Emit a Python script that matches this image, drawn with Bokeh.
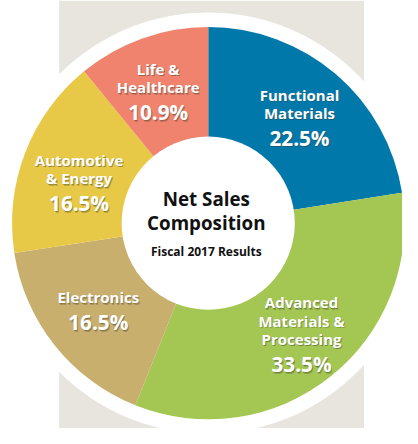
import math
from bokeh.plotting import figure
from bokeh.models import Range1d
from bokeh.core.properties import value
from bokeh.embed import file_html
from bokeh.resources import INLINE

# ---- data ----
segments = ["Functional Materials", "Advanced Materials & Processing", "Electronics",
            "Automotive & Energy", "Life & Healthcare"]
label_lines = [["Functional", "Materials"], ["Advanced", "Materials &", "Processing"],
               ["Electronics"], ["Automotive", "& Energy"], ["Life &", "Healthcare"]]
shares = [22.5, 33.5, 16.5, 16.5, 10.9]
colors = ["#0078AA", "#A4C652", "#C9AF6E", "#E8C947", "#EF836D"]
center_title = ["Net Sales", "Composition"]
center_sub = "Fiscal 2017 Results"

# ---- layout (reference pixel space, y flipped) ----
W, H = 402, 428
W_REF, H_REF = 418, 444
S = W / W_REF
def Y(y_ref):
    return H_REF - y_ref
def px(v):
    return f"{v * S:.1f}px"

cx, cy_ref = 216, 231
cy = Y(cy_ref)
R_OUT, R_RING, R_IN = 204, 219, 90
LABEL_R = 146
nudges = [(0, 0), (6, 0), (0, -1), (2, 9), (-3, 0)]
FONT = "Open Sans"

p = figure(width=W, height=H, output_backend="svg", toolbar_location=None,
           x_range=Range1d(0, W_REF), y_range=Range1d(0, H_REF),
           x_axis_location=None, y_axis_location=None,
           min_border=0, outline_line_color=None, background_fill_color="white",
           border_fill_color="white")
p.grid.visible = False

# beige backdrop
p.quad(left=61, right=378, bottom=Y(444), top=Y(0), fill_color="#E8E5DF", line_color=None)
# white ring
p.circle(x=cx, y=cy, radius=R_RING, fill_color="white", line_color=None)

total = sum(shares)
starts, ends, mids = [], [], []
cum = 0.0
for s in shares:
    a0 = math.pi / 2 - 2 * math.pi * cum / total
    cum += s
    a1 = math.pi / 2 - 2 * math.pi * cum / total
    starts.append(a0)
    ends.append(a1)
    mids.append((a0 + a1) / 2)

p.wedge(x=[cx] * len(shares), y=[cy] * len(shares), radius=R_OUT,
        start_angle=starts, end_angle=ends, direction="clock",
        fill_color=colors, line_color=None)
p.circle(x=cx, y=cy, radius=R_IN, fill_color="white", line_color=None)

def shadow_text(x, y, txt, size):
    for dx, dy, a in [(1.2, -1.5, 0.25), (0.6, -0.8, 0.3)]:
        p.text(x=[x + dx], y=[y + dy], text=[txt], text_font=value(FONT),
               text_font_style="bold", text_font_size=size, text_color="#3a3a2a",
               text_alpha=a, text_align="center", text_baseline="middle")
    p.text(x=[x], y=[y], text=[txt], text_font=value(FONT), text_font_style="bold",
           text_font_size=size, text_color="white", text_align="center",
           text_baseline="middle")

LINE = 19
PCT_GAP = 26
for lines, s, m, (nx, ny) in zip(label_lines, shares, mids, nudges):
    ax = cx + LABEL_R * math.cos(m) + nx
    ay_ref = cy_ref - LABEL_R * math.sin(m) + ny
    n = len(lines)
    span = (n - 1) * LINE + PCT_GAP
    y0 = ay_ref - span / 2
    for i, t in enumerate(lines):
        shadow_text(ax, Y(y0 + i * LINE), t, px(15.6))
    shadow_text(ax, Y(y0 + (n - 1) * LINE + PCT_GAP), f"{s:.1f}%", px(21.5))

# centre texts
for i, t in enumerate(center_title):
    p.text(x=[cx - 2], y=[Y(206 + i * 25)], text=[t], text_font=value(FONT),
           text_font_style="bold", text_font_size=px(19.5), text_color="#111111",
           text_align="center", text_baseline="middle")
p.text(x=[cx - 2], y=[Y(260)], text=[center_sub], text_font=value(FONT),
       text_font_style="bold", text_font_size=px(12.5), text_color="#111111",
       text_align="center", text_baseline="middle")

open("out.html", "w").write(file_html(p, INLINE))
